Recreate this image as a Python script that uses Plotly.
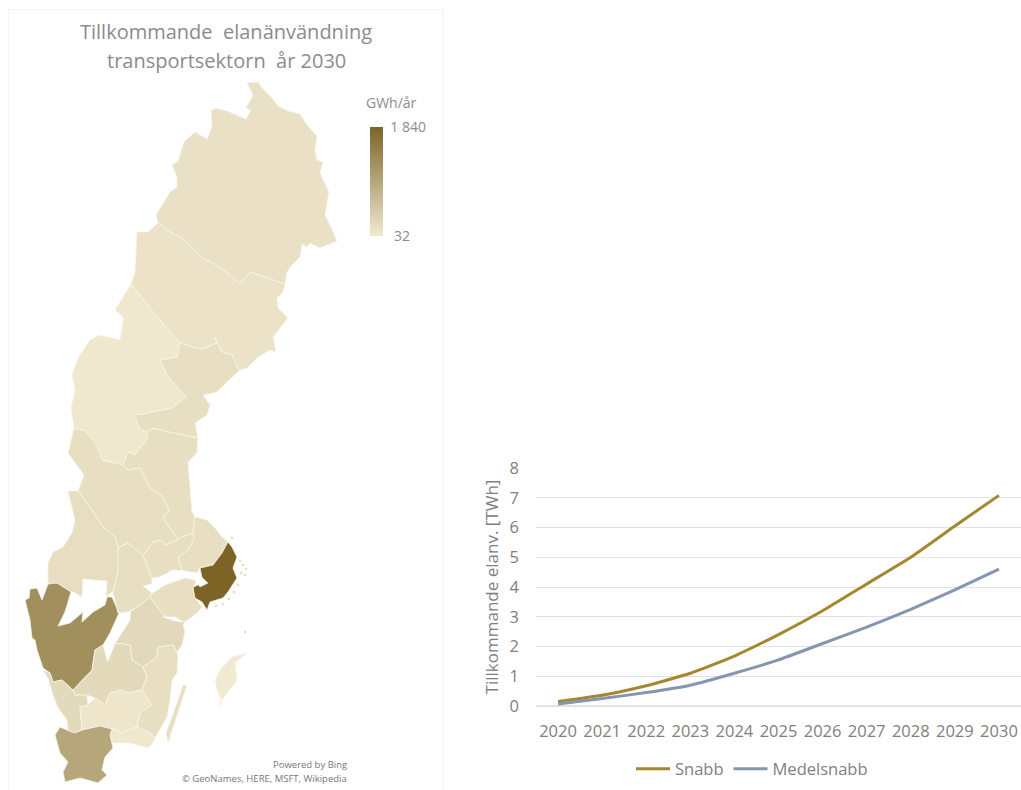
import plotly.graph_objects as go
from plotly.colors import sample_colorscale

years = [str(y) for y in range(2020, 2031)]
snabb = [0.15, 0.36, 0.68, 1.10, 1.68, 2.40, 3.20, 4.10, 5.00, 6.05, 7.08]
medelsnabb = [0.07, 0.25, 0.45, 0.70, 1.10, 1.55, 2.10, 2.65, 3.25, 3.90, 4.60]

title_line_1 = "Tillkommande  elanänvändning"
title_line_2 = "transportsektorn  år 2030"
cmin, cmax = 32, 1840
colorscale = [[0, "#f1e9d0"], [1, "#7b6426"]]

# län outlines (x, y in picture units)
norrbotten = [(247,83),(258,82),(262,88),(272,98),(278,106),(288,111),(300,114),(307,125),(317,136),(315,152),(317,160),(323,162),(320,173),(329,192),(325,215),(331,227),(337,241),(328,245),(320,248),(310,243),(307,247),(302,244),(300,257),(292,265),(287,272),(285,284),(273,280),(250,272),(240,284),(230,275),(213,263),(202,258),(182,238),(170,232),(158,223),(156,215),(170,192),(177,187),(177,177),(172,165),(178,161),(184,142),(195,132),(207,139),(212,127),(211,110),(216,108),(227,111),(246,119),(251,110),(246,108),(253,95)]
vasterbotten = [(158,223),(148,232),(137,232),(135,272),(131,284),(145,302),(157,317),(160,320),(180,343),(192,347),(203,349),(217,343),(215,338),(222,352),(232,355),(238,368),(240,370),(247,368),(257,358),(270,350),(276,352),(273,337),(288,318),(278,308),(277,298),(283,292),(285,284),(273,280),(250,272),(240,284),(230,275),(213,263),(202,258),(182,238),(170,232)]
jamtland = [(131,284),(115,310),(123,317),(123,320),(120,340),(100,335),(90,340),(78,358),(72,375),(75,390),(71,408),(74,428),(85,431),(97,445),(102,460),(123,465),(128,452),(135,455),(148,438),(147,432),(140,429),(134,415),(143,414),(172,408),(186,397),(167,375),(160,360),(177,357),(180,343),(160,320),(157,317),(145,302)]
vasternorrland = [(180,343),(177,357),(160,360),(167,375),(186,397),(172,408),(143,414),(134,415),(140,429),(147,432),(153,428),(173,433),(198,438),(195,423),(207,415),(210,405),(203,395),(217,392),(227,382),(240,370),(238,368),(232,355),(222,352),(215,338),(217,343),(203,349),(192,347)]
gavleborg = [(147,432),(153,428),(173,433),(198,438),(197,453),(188,462),(190,487),(192,512),(195,517),(193,533),(182,537),(178,540),(163,518),(169,510),(163,497),(150,488),(140,468),(128,470),(123,465),(128,452),(135,455),(148,438)]
dalarna = [(74,428),(68,453),(84,475),(78,491),(93,512),(103,527),(115,537),(118,548),(128,543),(143,555),(145,553),(153,542),(162,540),(165,545),(178,540),(163,518),(169,510),(163,497),(150,488),(140,468),(128,470),(123,465),(102,460),(97,445),(85,431)]
varmland = [(78,491),(68,491),(75,520),(72,533),(63,547),(53,552),(48,563),(48,584),(57,583),(71,592),(74,592),(82,597),(83,579),(107,581),(106,597),(114,590),(118,570),(118,548),(115,537),(103,527),(93,512)]
vastra_gotaland = [(48,584),(57,583),(71,592),(65,612),(58,626),(70,623),(83,612),(82,622),(93,612),(105,605),(107,597),(112,597),(119,613),(110,633),(103,645),(95,650),(92,670),(73,690),(62,680),(53,682),(50,673),(43,668),(37,650),(35,640),(32,638),(30,620),(25,600),(29,598),(30,589),(37,588),(42,600)]
orebro = [(118,548),(128,543),(143,555),(152,578),(152,593),(150,597),(140,605),(128,612),(118,613),(113,593),(118,570)]
vastmanland = [(143,555),(145,553),(153,542),(162,540),(165,545),(178,540),(182,537),(193,533),(194,540),(188,550),(178,558),(182,570),(160,577),(152,578)]
uppsala = [(195,517),(207,520),(215,528),(222,537),(228,542),(222,553),(213,565),(200,568),(197,573),(188,572),(182,570),(178,558),(188,550),(194,540),(193,533)]
stockholm = [(228,542),(232,547),(237,557),(233,568),(237,578),(228,592),(223,598),(217,600),(210,602),(207,610),(202,602),(193,597),(193,587),(203,583),(200,568),(213,565),(222,553)]
sodermanland = [(152,593),(165,585),(185,578),(197,580),(193,588),(195,598),(202,607),(197,613),(185,622),(165,617),(152,600),(150,597)]
ostergotland = [(152,600),(165,617),(185,622),(183,625),(185,632),(182,645),(177,652),(173,645),(158,647),(157,657),(143,667),(132,660),(130,645),(122,644),(115,643),(130,620),(130,612),(140,605),(150,597)]
jonkoping = [(103,645),(107,660),(115,643),(122,644),(130,645),(132,660),(143,667),(147,677),(142,690),(127,693),(122,690),(110,693),(105,705),(95,698),(87,695),(75,695),(73,690),(92,670),(95,650)]
halland = [(43,670),(50,673),(53,682),(62,680),(73,690),(75,695),(87,695),(88,705),(80,707),(82,730),(75,733),(68,730),(67,720),(58,708),(53,695),(48,678)]
kronoberg = [(88,705),(95,698),(105,705),(110,693),(122,690),(127,693),(142,690),(152,705),(140,713),(137,727),(127,730),(123,733),(112,729),(100,726),(82,730),(80,707)]
kalmar = [(143,667),(157,657),(158,647),(173,645),(177,652),(178,657),(177,673),(172,680),(170,700),(167,717),(158,733),(155,738),(150,733),(137,727),(140,713),(152,705),(142,690),(147,677)]
blekinge = [(112,729),(110,735),(113,743),(130,743),(148,748),(153,743),(155,738),(150,733),(137,727),(127,730),(123,733)]
skane = [(55,735),(60,727),(67,730),(75,733),(82,730),(100,726),(112,729),(110,735),(113,748),(105,757),(102,770),(107,775),(98,783),(80,778),(65,782),(63,772),(68,762),(60,753)]
oland = [(187,685),(183,685),(172,717),(166,733),(168,743),(178,713)]
gotland = [(247,653),(232,657),(220,670),(215,680),(217,690),(222,703),(217,707),(227,693),(237,680),(235,663)]

regions = {
    "Norrbotten": (norrbotten, 150), "Västerbotten": (vasterbotten, 130),
    "Jämtland": (jamtland, 50), "Västernorrland": (vasternorrland, 170),
    "Gävleborg": (gavleborg, 170), "Dalarna": (dalarna, 170),
    "Värmland": (varmland, 190), "Västra Götaland": (vastra_gotaland, 1260),
    "Örebro": (orebro, 170), "Västmanland": (vastmanland, 170),
    "Uppsala": (uppsala, 170), "Stockholm": (stockholm, 1840),
    "Södermanland": (sodermanland, 170), "Östergötland": (ostergotland, 260),
    "Jönköping": (jonkoping, 240), "Halland": (halland, 240),
    "Kronoberg": (kronoberg, 80), "Kalmar": (kalmar, 170),
    "Blekinge": (blekinge, 50), "Skåne": (skane, 940),
    "Öland": (oland, 170), "Gotland": (gotland, 32),
}

vattern = [(130,612),(122,615),(113,637),(106,655),(108,661),(115,643),(130,620)]
hjalmaren = [(143,586),(158,583),(165,585),(157,590),(152,593),(147,589)]
malaren = [(160,577),(173,570),(188,572),(197,573),(208,583),(200,587),(195,580),(185,577),(167,578)]
braviken = [(163,617),(175,617),(183,622),(175,621)]
waters = [vattern, hjalmaren, malaren, braviken]

islet_x = [240, 243, 246, 241, 245, 238, 234, 229, 223, 216, 245, 232]
islet_y = [561, 565, 569, 573, 575, 585, 592, 599, 604, 606, 632, 538]

fig = go.Figure()

for name, (outline, value) in regions.items():
    t = (value - cmin) / (cmax - cmin)
    colour = sample_colorscale(colorscale, t)[0]
    xs = [p[0] for p in outline] + [outline[0][0]]
    ys = [p[1] for p in outline] + [outline[0][1]]
    fig.add_trace(go.Scatter(x=xs, y=ys, mode="lines", fill="toself", fillcolor=colour,
                             line=dict(color="#f8f4e8", width=0.8), name=name, showlegend=False,
                             hoverinfo="name", xaxis="x2", yaxis="y2"))
for w in waters:
    fig.add_trace(go.Scatter(x=[p[0] for p in w] + [w[0][0]], y=[p[1] for p in w] + [w[0][1]],
                             mode="lines", fill="toself", fillcolor="white",
                             line=dict(color="white", width=0.5), showlegend=False,
                             hoverinfo="skip", xaxis="x2", yaxis="y2"))
fig.add_trace(go.Scatter(x=islet_x, y=islet_y, mode="markers", showlegend=False, hoverinfo="skip",
                         marker=dict(size=2.5, color="#d8cdaa", opacity=0.7, line=dict(width=0)), xaxis="x2", yaxis="y2"))

# colour legend
fig.add_trace(go.Scatter(x=[-50, -50], y=[-50, -50], mode="markers", xaxis="x2", yaxis="y2", showlegend=False,
                         hoverinfo="skip",
                         marker=dict(color=[cmin, cmax], cmin=cmin, cmax=cmax, colorscale=colorscale, opacity=0,
                                     colorbar=dict(x=370/1021, xanchor="left", y=(790-127)/790, yanchor="top",
                                                   thickness=13, thicknessmode="pixels", len=109/790, lenmode="fraction",
                                                   outlinewidth=0, xpad=0, ypad=0, ticks="outside", ticklen=5,
                                                   tickcolor="rgba(0,0,0,0)", tickvals=[cmin, cmax],
                                                   ticktext=["\u00a032", "1 840"],
                                                   tickfont=dict(family="Open Sans", size=14, color="#8c8c8c")))))

fig.add_trace(go.Scatter(x=years, y=snabb, mode="lines", name="Snabb", line=dict(color="#a5872f", width=3, shape="spline", smoothing=0.4)))
fig.add_trace(go.Scatter(x=years, y=medelsnabb, mode="lines", name="Medelsnabb", line=dict(color="#8496b0", width=3, shape="spline", smoothing=0.4)))

axis_font = dict(family="Open Sans", size=16.5, color="#808080")
grey_note = dict(family="Open Sans", size=9.5, color="#777777")
title_font = dict(family="Open Sans", size=20, color="#8c8c8c")
fig.update_layout(
    width=1021, height=790, margin=dict(l=0, r=0, t=0, b=0, autoexpand=False),
    paper_bgcolor="white", plot_bgcolor="rgba(0,0,0,0)",
    xaxis=dict(domain=[536/1021, 1], type="category", range=[-0.5, 10.5], showgrid=False, showline=False,
               ticks="", tickfont=axis_font, anchor="y", tickangle=0, ticklabelstandoff=13),
    yaxis=dict(domain=[(790-706)/790, (790-468)/790], range=[0, 8], dtick=1, gridcolor="#e2e2e2", gridwidth=1,
               zeroline=True, zerolinecolor="#e2e2e2", tickfont=axis_font, anchor="x", ticklabelstandoff=16,
               title=dict(text="Tillkommande elanv. [TWh]", font=dict(family="Open Sans", size=17, color="#808080"), standoff=6)),
    xaxis2=dict(domain=[0, 1], range=[0, 1021], visible=False, anchor="y2"),
    yaxis2=dict(domain=[0, 1], range=[790, 0], visible=False, anchor="x2"),
    legend=dict(orientation="h", x=752/1021, xanchor="center", y=(790-769)/790, yanchor="middle",
                font=dict(family="Open Sans", size=16.5, color="#808080"), itemwidth=34, bgcolor="rgba(0,0,0,0)"),
    shapes=[dict(type="rect", xref="paper", yref="paper", x0=8.5/1021, x1=443.5/1021, y0=-0.01, y1=(790-9.5)/790,
                 line=dict(color="#f4f4f4", width=1), layer="below")],
    annotations=[
        dict(text=title_line_1, x=226/1021, y=(790-32)/790, xref="paper", yref="paper", showarrow=False,
             xanchor="center", yanchor="middle", font=title_font),
        dict(text=title_line_2, x=226/1021, y=(790-61)/790, xref="paper", yref="paper", showarrow=False,
             xanchor="center", yanchor="middle", font=title_font),
        dict(text="GWh/år", x=391/1021, y=(790-102)/790, xref="paper", yref="paper", showarrow=False,
             xanchor="center", yanchor="middle", font=dict(family="Open Sans", size=14, color="#8c8c8c")),
        dict(text="Powered by Bing", x=349/1021, y=(790-764)/790, xref="paper", yref="paper", showarrow=False,
             xanchor="right", yanchor="middle", font=grey_note),
        dict(text="© GeoNames, HERE, MSFT, Wikipedia", x=349/1021, y=(790-778)/790, xref="paper", yref="paper",
             showarrow=False, xanchor="right", yanchor="middle", font=grey_note),
    ],
)

fig.write_html("out.html", config=dict(displayModeBar=False), post_script="document.body.style.margin='0';")
